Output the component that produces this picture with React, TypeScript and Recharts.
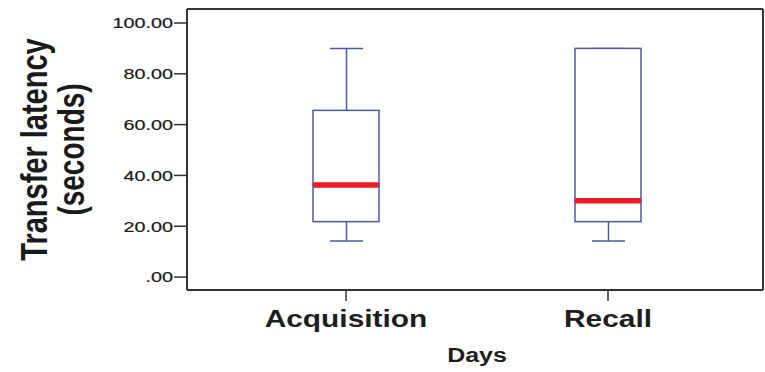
import React from 'react';
import { ComposedChart, Bar, XAxis, YAxis } from 'recharts';

// Transfer latency box plot summary per day
const days = ['Acquisition', 'Recall'];
const whiskerLow = [14.2, 14.2];
const quartile1 = [21.8, 21.8];
const medians = [36.2, 30.0];
const quartile3 = [65.6, 90.0];
const whiskerHigh = [90.0, 90.0];

const yTicks = [0, 20, 40, 60, 80, 100];

const data = days.map((day, i) => ({
  day,
  whisker: [whiskerLow[i], whiskerHigh[i]],
  lower: [quartile1[i], medians[i]],
  upper: [medians[i], quartile3[i]],
}));

const BOX = '#4c5aa6';
const MEDIAN = '#ec1c24';
const FRAME = '#333333';
const FONT = '"Liberation Sans", Arial, sans-serif';
const PAD = { left: 28, right: 24 };
const Y_DOMAIN = [-5.1, 105.5];

const WhiskerShape = (props: any) => {
  const { x, y, width, height } = props;
  const cx = x + width / 2;
  return (
    <g stroke={BOX} strokeWidth={1.5}>
      <line x1={cx} x2={cx} y1={y} y2={y + height} />
      <line x1={x} x2={x + width} y1={y} y2={y} />
      <line x1={x} x2={x + width} y1={y + height} y2={y + height} />
    </g>
  );
};

const UpperShape = (props: any) => {
  const { x, y, width, height } = props;
  return <rect x={x} y={y} width={width} height={height} fill="#fff" stroke={BOX} strokeWidth={1.5} />;
};

// lower half of the box, with the median drawn along its top edge
const LowerShape = (props: any) => {
  const { x, y, width, height } = props;
  return (
    <g>
      <rect x={x} y={y} width={width} height={height} fill="#fff" stroke={BOX} strokeWidth={1.5} />
      <line x1={x} x2={x + width} y1={y} y2={y} stroke={MEDIAN} strokeWidth={5.5} />
    </g>
  );
};

const YTick = (props: any) => {
  const { x, y, payload } = props;
  const v = payload.value as number;
  const text = v === 0 ? '.00' : v.toFixed(2);
  return (
    <text transform={`translate(${x},${y}) scale(1.32,1)`} textAnchor="end" dy="0.36em"
      fontSize={15} fontFamily={FONT} fill="#1a1a1a" stroke="#1a1a1a" strokeWidth={0.2}>
      {text}
    </text>
  );
};

const XTick = (props: any) => {
  const { x, y, payload } = props;
  return (
    <text transform={`translate(${x},${y + 24}) scale(1.3,1)`} textAnchor="middle"
      fontSize={23} fontWeight="bold" fontFamily={FONT} fill="#1e1e1e">
      {payload.value}
    </text>
  );
};

const YLabel = (props: any) => {
  const { viewBox } = props;
  const cy = viewBox.y + viewBox.height / 2;
  return (
    <g fontFamily={FONT} fontWeight="bold" fill="#1a1a1a" textAnchor="middle">
      <text transform={`translate(47,${cy}) rotate(-90) scale(1,1.3)`} fontSize={29}>Transfer latency</text>
      <text transform={`translate(84,${cy}) rotate(-90) scale(1,1.3)`} fontSize={28}>(seconds)</text>
    </g>
  );
};

const XLabel = (props: any) => {
  const { viewBox } = props;
  const cx = viewBox.x + viewBox.width / 2;
  return (
    <text transform={`translate(${cx + 2},362) scale(1.25,1)`} textAnchor="middle"
      fontSize={20} fontWeight="bold" fontFamily={FONT} fill="#1e1e1e">
      Days
    </text>
  );
};

export default function App() {
  return (
    <div style={{ position: 'absolute', left: 0, top: 0, background: '#fff' }}>
      <ComposedChart width={765} height={372} data={data}
        margin={{ top: 8, right: 1, bottom: 0, left: 0 }}>
        <XAxis xAxisId="box" dataKey="day" height={82} padding={PAD}
          stroke={FRAME} axisLine={{ stroke: FRAME, strokeWidth: 2 }}
          tickLine={{ stroke: FRAME, strokeWidth: 1.5 }} tickSize={11} tick={<XTick />}
          interval={0} label={<XLabel />} />
        <XAxis xAxisId="whisk" dataKey="day" hide padding={PAD} />
        <XAxis xAxisId="low" dataKey="day" hide padding={PAD} />
        {/* top and right axes only close the frame */}
        <XAxis xAxisId="frameTop" dataKey="day" orientation="top" height={1} tick={false}
          tickLine={false} axisLine={{ stroke: FRAME, strokeWidth: 2 }} padding={PAD} />
        <YAxis width={187} domain={Y_DOMAIN} ticks={yTicks} type="number"
          allowDataOverflow axisLine={{ stroke: FRAME, strokeWidth: 2 }}
          tickLine={{ stroke: FRAME, strokeWidth: 1.5 }} tickSize={13} tickMargin={1}
          tick={<YTick />} label={<YLabel />} />
        <YAxis yAxisId="frameRight" orientation="right" width={1} domain={Y_DOMAIN}
          tick={false} tickLine={false} axisLine={{ stroke: FRAME, strokeWidth: 2 }} />
        <Bar xAxisId="whisk" dataKey="whisker" barSize={33} shape={<WhiskerShape />} isAnimationActive={false} />
        <Bar xAxisId="box" dataKey="upper" barSize={66} shape={<UpperShape />} isAnimationActive={false} />
        <Bar xAxisId="low" dataKey="lower" barSize={66} shape={<LowerShape />} isAnimationActive={false} />
      </ComposedChart>
    </div>
  );
}
